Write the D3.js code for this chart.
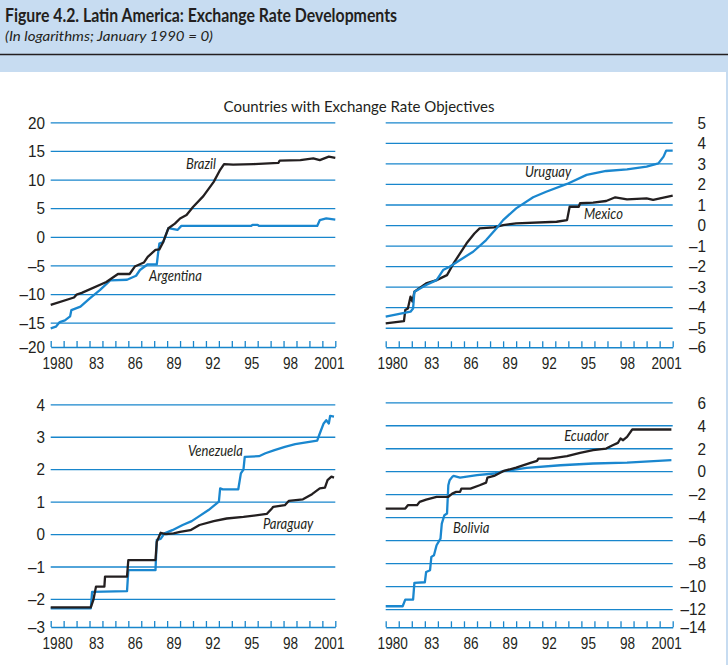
<!DOCTYPE html>
<html>
<head>
<meta charset="utf-8">
<script src="https://cdnjs.cloudflare.com/ajax/libs/d3/7.8.5/d3.min.js"></script>
<style>
  body { margin: 0; background: #c7dcf1; }
  svg { display: block; font-family: Lato, "Open Sans", sans-serif; }
</style>
</head>
<body>
<svg id="chart" width="728" height="665"></svg>
<script>
// values: [year, log level]
const brazil = [[1980,-11.9],[1981.8,-10.6],[1982.0,-10.1],[1982.4,-9.8],[1984.3,-7.9],[1985.2,-6.5],[1986.1,-6.5],[1986.5,-5.2],[1987.2,-4.5],[1987.5,-3.5],[1988.1,-2.3],[1988.4,-2.2],[1988.7,-0.9],[1989.1,1.5],[1989.6,2.3],[1990.0,3.2],[1990.5,3.8],[1991.0,5.2],[1991.8,7.1],[1992.6,9.6],[1993.1,11.7],[1993.4,12.7],[1994.1,12.6],[1995.7,12.7],[1997.6,12.9],[1997.7,13.3],[1999.3,13.4],[2000.3,13.7],[2000.8,13.4],[2001.5,14.0],[2002.0,13.8]];
const argentina = [[1980,-16.0],[1980.4,-15.7],[1980.7,-14.9],[1981.1,-14.6],[1981.5,-13.9],[1981.6,-12.8],[1982.3,-12.2],[1983.0,-10.8],[1983.8,-9.3],[1984.6,-7.6],[1985.9,-7.5],[1986.6,-6.8],[1986.9,-5.8],[1987.5,-4.8],[1988.2,-4.8],[1988.3,-2.9],[1988.4,-1.2],[1988.7,-0.9],[1989.0,0.9],[1989.1,1.5],[1989.8,1.2],[1990.1,1.9],[1995.5,1.9],[1995.6,2.1],[1996.0,2.1],[1996.1,1.9],[2000.6,1.9],[2000.8,2.9],[2001.3,3.2],[2002.0,3.0]];
const uruguay = [[1980,-4.46],[1981.9,-4.22],[1982.1,-4.06],[1982.2,-3.25],[1983.1,-2.92],[1983.9,-2.68],[1984.4,-2.19],[1984.9,-2.03],[1985.7,-1.70],[1986.7,-1.30],[1987.7,-0.73],[1988.5,-0.16],[1989.0,0.24],[1990.0,0.81],[1991.3,1.35],[1992.3,1.62],[1993.9,2.0],[1995.4,2.44],[1996.9,2.63],[1998.5,2.71],[2000.0,2.84],[2000.9,3.0],[2001.3,3.33],[2001.5,3.62],[2002.0,3.62]];
const mexico = [[1980,-4.79],[1981.4,-4.68],[1981.5,-4.14],[1981.7,-4.06],[1981.9,-3.49],[1982.05,-3.73],[1982.2,-3.25],[1983.1,-2.84],[1983.9,-2.68],[1984.7,-2.44],[1985.2,-1.87],[1985.7,-1.38],[1986.2,-0.89],[1986.8,-0.41],[1987.2,-0.16],[1988.3,-0.11],[1989.0,0.0],[1990.0,0.08],[1993.1,0.16],[1993.9,0.24],[1994.1,0.89],[1994.8,0.89],[1994.9,1.06],[1995.9,1.09],[1996.9,1.17],[1997.6,1.35],[1998.5,1.25],[2000.0,1.30],[2000.5,1.22],[2002.0,1.43]];
const venezuela = [[1980,-2.29],[1983.1,-2.29],[1983.2,-1.78],[1985.9,-1.76],[1986.0,-1.11],[1988.1,-1.11],[1988.2,-0.18],[1988.5,-0.15],[1988.8,0.02],[1989.4,0.12],[1990.2,0.28],[1990.9,0.40],[1991.4,0.53],[1992.2,0.74],[1993.0,1.0],[1993.1,1.41],[1993.3,1.38],[1994.5,1.38],[1994.7,1.87],[1994.9,1.99],[1995.0,2.38],[1996.1,2.40],[1996.6,2.49],[1997.3,2.59],[1998.1,2.69],[1998.9,2.77],[2000.6,2.88],[2000.8,3.10],[2001.1,3.41],[2001.3,3.51],[2001.5,3.41],[2001.6,3.64],[2001.9,3.62]];
const paraguay = [[1980,-2.26],[1983.1,-2.26],[1983.3,-2.03],[1983.5,-1.62],[1984.15,-1.62],[1984.2,-1.31],[1985.9,-1.31],[1986.0,-0.80],[1988.1,-0.80],[1988.2,-0.24],[1988.5,0.04],[1988.9,0.0],[1989.5,0.02],[1990.0,0.07],[1990.8,0.12],[1991.5,0.28],[1992.6,0.40],[1993.6,0.48],[1994.9,0.53],[1996.7,0.62],[1997.1,0.79],[1997.2,0.84],[1998.1,0.89],[1998.4,1.02],[1999.5,1.07],[2000.2,1.23],[2000.8,1.41],[2001.2,1.43],[2001.4,1.66],[2001.7,1.77],[2001.9,1.74]];
const ecuador = [[1980,-3.25],[1981.5,-3.25],[1981.7,-2.96],[1982.4,-2.96],[1982.6,-2.67],[1983.1,-2.47],[1983.9,-2.24],[1984.8,-2.24],[1985.1,-1.95],[1985.4,-1.80],[1985.7,-1.80],[1985.8,-1.51],[1986.5,-1.51],[1987.2,-1.22],[1987.7,-0.99],[1987.8,-0.55],[1988.3,-0.41],[1989.0,0.0],[1990.0,0.32],[1991.1,0.73],[1991.6,0.90],[1991.7,1.10],[1992.6,1.10],[1993.9,1.31],[1994.9,1.60],[1995.9,1.83],[1996.9,1.97],[1997.4,2.26],[1997.8,2.47],[1998.0,2.85],[1998.2,2.70],[1998.5,2.99],[1998.9,3.63],[2001.9,3.63]];
const bolivia = [[1980,-11.76],[1981.3,-11.76],[1981.5,-11.18],[1982.1,-11.18],[1982.2,-9.73],[1983.0,-9.67],[1983.1,-8.77],[1983.4,-8.62],[1983.5,-7.46],[1983.7,-7.32],[1983.9,-6.45],[1984.2,-5.87],[1984.3,-4.56],[1984.5,-3.83],[1984.7,-3.69],[1984.8,-1.22],[1984.9,-0.78],[1985.1,-0.49],[1985.2,-0.40],[1985.7,-0.55],[1987.0,-0.35],[1988.3,-0.20],[1989.0,0.0],[1990.8,0.29],[1993.4,0.52],[1995.9,0.67],[1998.5,0.75],[2001.9,0.96]];

const ticksTL = [-20, -15, -10, -5, 0, 5, 10, 15, 20];
const ticksTR = [-6, -5, -4, -3, -2, -1, 0, 1, 2, 3, 4, 5];
const ticksBL = [-3, -2, -1, 0, 1, 2, 3, 4];
const ticksBR = [-14, -12, -10, -8, -6, -4, -2, 0, 2, 4, 6];
const yearTicks = [1980,1981,1982,1983,1984,1985,1986,1987,1988,1989,1990,1991,1992,1993,1994,1995,1996,1997,1998,1999,2000,2001,2002];
const yearLabels = [1980, 1983, 1986, 1989, 1992, 1995, 1998, 2001];

const BLUE = '#1a87cf', GRID = '#1886cc', INK = '#231f20';

const svg = d3.select('#chart');

// header band
svg.append('rect').attr('width', 728).attr('height', 665).attr('fill', '#c7dcf1');
svg.append('rect').attr('x', 0).attr('y', 72).attr('width', 726).attr('height', 593).attr('fill', '#fff');
svg.append('line').attr('x1', 0).attr('x2', 728).attr('y1', 54.5).attr('y2', 54.5)
    .attr('stroke', INK).attr('stroke-width', 1.5);
svg.append('text').attr('x', 5).attr('y', 22).attr('font-size', 19).attr('font-weight', 700)
    .attr('fill', INK).attr('textLength', 392).attr('lengthAdjust', 'spacingAndGlyphs')
    .text('Figure 4.2. Latin America: Exchange Rate Developments');
svg.append('text').attr('x', 5).attr('y', 41).attr('font-size', 13).attr('font-style', 'italic')
    .attr('fill', INK).attr('textLength', 208).attr('lengthAdjust', 'spacingAndGlyphs')
    .text('(In logarithms; January 1990 = 0)');
svg.append('text').attr('x', 359).attr('y', 112).attr('font-size', 15).attr('text-anchor', 'middle')
    .attr('fill', INK).text('Countries with Exchange Rate Objectives');

const fmt = d => d < 0 ? '\u2013' + Math.abs(d) : String(d);
const yearFmt = d => {
    const yr = Math.floor(d);
    return (yr === 1980 || yr === 2001) ? String(yr) : String(yr).slice(2);
};

const panels = [
    { x0: 50.7, x1: 335.3, yTop: 122.3, yBot: 351.3, axisY: 347, side: 'left', labelX: 45, ticks: ticksTL,
      series: [
        { data: argentina, color: BLUE, name: 'Argentina', at: [1987.6, -7.72] },
        { data: brazil, color: INK, name: 'Brazil', at: [1990.46, 11.84] }] },
    { x0: 385.7, x1: 672.7, yTop: 122.3, yBot: 348.3, axisY: 347.3, side: 'right', labelX: 706, ticks: ticksTR,
      series: [
        { data: mexico, color: INK, name: 'Mexico', at: [1995.2, 0.29] },
        { data: uruguay, color: BLUE, name: 'Uruguay', at: [1990.68, 2.34] }] },
    { x0: 50.7, x1: 335.3, yTop: 404.3, yBot: 631.4, axisY: 627, side: 'left', labelX: 45, ticks: ticksBL,
      series: [
        { data: venezuela, color: BLUE, name: 'Venezuela', at: [1990.61, 2.41] },
        { data: paraguay, color: INK, name: 'Paraguay', at: [1996.41, 0.16] }] },
    { x0: 385.7, x1: 672.7, yTop: 402.3, yBot: 632, axisY: 627.3, side: 'right', labelX: 706, ticks: ticksBR,
      series: [
        { data: bolivia, color: BLUE, name: 'Bolivia', at: [1985.16, -5.38] },
        { data: ecuador, color: INK, name: 'Ecuador', at: [1993.68, 2.63] }] }
];

panels.forEach(p => {
    const x = d3.scaleLinear().domain([1980, 2002]).range([p.x0, p.x1]);
    const y = d3.scaleLinear().domain(d3.extent(p.ticks)).range([p.yBot, p.yTop]);
    const g = svg.append('g');
    const w = p.x1 - p.x0;
    const lowest = d3.min(p.ticks);

    // gridlines + value labels
    const yAxis = (p.side === 'left' ? d3.axisLeft(y) : d3.axisRight(y))
        .tickValues(p.ticks).tickSize(-w).tickFormat(fmt);
    const ya = g.append('g')
        .attr('transform', `translate(${p.side === 'left' ? p.x0 : p.x1},0)`)
        .call(yAxis);
    ya.select('.domain').remove();
    ya.selectAll('.tick line').attr('stroke', GRID).attr('stroke-width', 1.3);
    ya.selectAll('.tick').filter(d => d === lowest)
        .attr('transform', `translate(0,${p.axisY})`)
        .select('line').remove();
    const off = p.labelX - (p.side === 'left' ? p.x0 : p.x1);
    ya.selectAll('.tick text')
        .attr('x', off / 0.9).attr('dy', '0.34em')
        .attr('text-anchor', 'end')
        .attr('transform', 'scale(0.9,1)')
        .attr('font-size', 17).attr('font-family', null).attr('fill', INK);

    // x axis: year ticks and mid-year labels
    const xa = g.append('g').attr('transform', `translate(0,${p.axisY})`)
        .call(d3.axisBottom(x).tickValues(yearTicks).tickSize(-6).tickSizeOuter(0).tickFormat(''));
    xa.select('.domain').attr('stroke', GRID).attr('stroke-width', 1.5);
    xa.selectAll('.tick line').attr('stroke', GRID).attr('stroke-width', 1.3);

    const xl = g.append('g').attr('transform', `translate(0,${p.axisY})`)
        .call(d3.axisBottom(x).tickValues(yearLabels.map(d => d + 0.5)).tickSize(0).tickPadding(10).tickFormat(yearFmt));
    xl.select('.domain').remove();
    xl.selectAll('.tick text').attr('font-size', 17).attr('font-family', null).attr('fill', INK)
        .attr('transform', 'scale(0.8,1)');

    // series
    const line = d3.line().x(d => x(d[0])).y(d => y(d[1]));
    p.series.forEach(s => {
        g.append('path').datum(s.data).attr('d', line)
            .attr('fill', 'none').attr('stroke', s.color).attr('stroke-width', 2.3)
            .attr('stroke-linejoin', 'round');
    });
    p.series.forEach(s => {
        g.append('g').attr('transform', `translate(${x(s.at[0])},${y(s.at[1])})`)
            .append('text').attr('transform', 'scale(0.87,1)')
            .attr('font-size', 15).attr('font-style', 'italic').attr('fill', INK)
            .text(s.name);
    });
});
</script>
</body>
</html>
